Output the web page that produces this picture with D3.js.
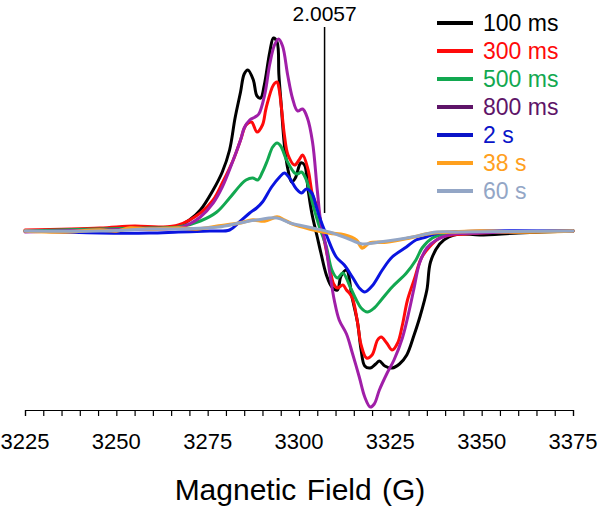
<!DOCTYPE html>
<html>
<head>
<meta charset="utf-8">
<script src="https://cdn.jsdelivr.net/npm/d3@7"></script>
<style>
  body { margin: 0; background: #fff; }
  svg { display: block; font-family: "Liberation Sans", Arial, Helvetica, sans-serif; }
</style>
</head>
<body>
<svg id="chart" width="601" height="513"></svg>
<script>
// ---- data (field in G, signal in arbitrary units) ----
const seriesNames = ["100 ms", "300 ms", "500 ms", "800 ms", "2 s", "38 s", "60 s"];
const lineColors = ["#000000", "#ff0a0a", "#12a850", "#a01fa8", "#0a14e0", "#ffa01e", "#93a6c6"];
const legendColors = ["#000000", "#ff0a0a", "#12a850", "#5e1468", "#0a14c8", "#ffa01e", "#93a6c6"];

const s100ms = [[3225,1],[3245.5,3],[3259,4],[3267,6],[3270,12],[3273,22],[3276.5,42],[3279,60],[3281,82],[3282.5,114],[3284,140],[3285,158],[3286,162],[3287.5,152],[3288.5,136],[3289.5,134],[3290.5,147],[3292,180],[3293,194],[3294,190],[3294.5,157],[3295.2,124],[3296,87],[3297,62],[3298,50],[3299,54],[3300.5,69],[3301.5,67],[3302.5,42],[3303.5,19],[3305,-5],[3306,-21],[3307.5,-43],[3309,-55],[3310.5,-58],[3311.5,-44],[3313,-38],[3314.5,-65],[3316,-90],[3317,-118],[3318,-134],[3319.5,-136],[3321,-132],[3322,-129],[3323.5,-134],[3325.5,-136],[3327.5,-132],[3329.5,-123],[3331.5,-103],[3333,-86],[3335,-58],[3336,-30],[3338.5,-12],[3341,-5],[3344,-2],[3349.5,-3],[3360,-1],[3375,1]];
const s300ms = [[3225,2],[3245.5,4],[3255,6],[3262,5],[3267,7],[3273,19],[3276.5,32],[3279,49],[3282,72],[3284,92],[3285.5,107],[3287,110],[3288.5,100],[3290,107],[3291,124],[3293,147],[3294,150],[3294.5,144],[3295.2,124],[3296,97],[3297,77],[3298.8,67],[3300,72],[3301,77],[3302.5,62],[3303.7,37],[3305,25],[3306.5,-1],[3308.3,-33],[3309.5,-52],[3310.5,-56],[3312,-53],[3313,-58],[3314.5,-65],[3316,-90],[3317,-113],[3318.5,-126],[3320,-123],[3321.5,-108],[3322.5,-105],[3324,-111],[3325.5,-118],[3327,-111],[3328.3,-93],[3329.7,-68],[3331.5,-48],[3333.5,-26],[3335.7,-15],[3338.5,-6],[3342,-3],[3349.5,-1],[3375,1]];
const s500ms = [[3225,1],[3245.5,3],[3259,4],[3267,5],[3273,11],[3277.5,20],[3281,34],[3284,47],[3285.5,52],[3287.3,54],[3288.7,52],[3290,60],[3291.4,72],[3292.8,85],[3294,89],[3295,86],[3296.6,72],[3298.8,59],[3299.6,58],[3300.7,60],[3302,52],[3303.7,29],[3305.6,5],[3307.5,-15],[3309,-38],[3310.5,-46],[3312,-41],[3314,-55],[3315.7,-68],[3317,-76],[3318.7,-80],[3320.6,-76],[3322.5,-68],[3325.5,-55],[3329.4,-41],[3332,-28],[3333.7,-16],[3336.5,-6],[3339.8,-2],[3344,-1],[3375,1]];
const s800ms = [[3225,0],[3245.5,2],[3259,3],[3267,4],[3270,8],[3273,15],[3276.5,29],[3279,45],[3282,72],[3284,92],[3285,104],[3286.5,112],[3288,115],[3289,118],[3290.6,137],[3292,168],[3293.3,187],[3294.4,193],[3295.5,186],[3296.9,157],[3298.2,134],[3299.6,121],[3301,123],[3302.3,114],[3303.7,90],[3305,42],[3306,9],[3307.3,-13],[3308.3,-38],[3309.7,-69],[3311,-88],[3313,-102],[3314.6,-121],[3316.5,-145],[3318,-165],[3319.5,-175],[3320.6,-172],[3322,-158],[3324,-142],[3326,-128],[3328.3,-106],[3330.2,-78],[3331.5,-56],[3333,-31],[3335,-16],[3337.6,-8],[3341,-3],[3349.5,-1],[3375,1]];
const s2s = [[3225,1],[3234.5,0],[3245.5,-1],[3259,-1],[3267,0],[3275.5,1],[3281,2],[3283.7,10],[3286.5,19],[3288.4,24],[3290,30],[3292.5,45],[3294.7,55],[3296,59],[3297.4,54],[3299.3,43],[3300.7,39],[3302,43],[3303.5,39],[3304.6,27],[3305.6,15],[3307.5,-3],[3310.2,-25],[3312.4,-33],[3314.6,-45],[3316.5,-56],[3318,-60],[3320,-54],[3322.8,-38],[3325.5,-25],[3329.4,-15],[3332,-8],[3334.8,-5],[3338.4,-1],[3375,1]];
const s38s = [[3225,1],[3235,0],[3245.5,2],[3250,1],[3253.7,4],[3259,3],[3267,4],[3272,3],[3278,6],[3283.7,9],[3287.3,12],[3290.6,11],[3294,15],[3296,12],[3298.2,8],[3303,3],[3308.3,-1],[3312.4,-3],[3315.7,-8],[3317.3,-16],[3319.3,-11],[3324,-10],[3330.2,-6],[3336.5,-1],[3342,0],[3349.5,1],[3360,0],[3375,1]];
const s60s = [[3225,1],[3245.5,1],[3259,3],[3267,3],[3278,5],[3283.7,9],[3288.4,12],[3294,14],[3297.6,9],[3303.7,4],[3308.3,0],[3313,-6],[3317.3,-12],[3322,-10],[3331,-5],[3337.6,0],[3343,0],[3375,1]];
const allSeries = [s100ms, s300ms, s500ms, s800ms, s2s, s38s, s60s];

const xTicksMajor = [3225, 3250, 3275, 3300, 3325, 3350, 3375];
const gFactorLabel = "2.0057";
const gFactorField = 3307;
const xTitle = "Magnetic Field (G)";

// ---- layout ----
const svg = d3.select("#chart");
const x = d3.scaleLinear().domain([3225, 3375]).range([25, 573]);
const y = d3.scaleLinear().domain([-180, 200]).range([412, 32]);

// axis
const axisY = 410;
const axis = d3.axisBottom(x)
  .tickValues(d3.range(3225, 3376, 5))
  .tickSize(6)
  .tickFormat("");
const gAxis = svg.append("g").attr("transform", `translate(0,${axisY})`).call(axis);
gAxis.select(".domain").attr("stroke", "#000").attr("stroke-width", 1.2);
gAxis.selectAll(".tick line").attr("stroke", "#000").attr("stroke-width", 1.2);

svg.append("g").selectAll("text").data(xTicksMajor).join("text")
  .attr("x", d => x(d)).attr("y", 449)
  .attr("text-anchor", "middle")
  .attr("font-size", 22)
  .text(d => d);

svg.append("text")
  .attr("x", 300).attr("y", 500)
  .attr("text-anchor", "middle")
  .attr("font-size", 30)
  .attr("word-spacing", 2)
  .text(xTitle);

// curves
const line = d3.line().x(d => x(d[0])).y(d => y(d[1])).curve(d3.curveCatmullRom.alpha(0.5));
svg.append("g").selectAll("path").data(allSeries).join("path")
  .attr("d", d => line(d))
  .attr("fill", "none")
  .attr("stroke", (d, i) => lineColors[i])
  .attr("stroke-width", (d, i) => i === 5 ? 3.4 : 3)
  .attr("stroke-linejoin", "round")
  .attr("stroke-linecap", "round");

// g-factor marker
svg.append("line")
  .attr("x1", x(gFactorField)).attr("x2", x(gFactorField))
  .attr("y1", 27).attr("y2", 213)
  .attr("stroke", "#000").attr("stroke-width", 1.5);
svg.append("text")
  .attr("x", x(gFactorField)).attr("y", 21)
  .attr("text-anchor", "middle")
  .attr("font-size", 21)
  .text(gFactorLabel);

// legend
const leg = svg.append("g");
const legY0 = 23, legStep = 28;
seriesNames.forEach((name, i) => {
  const yy = legY0 + i * legStep;
  leg.append("line").attr("x1", 437).attr("x2", 473).attr("y1", yy).attr("y2", yy)
    .attr("stroke", legendColors[i]).attr("stroke-width", 4);
  leg.append("text").attr("x", 483).attr("y", yy).attr("dy", "0.36em")
    .attr("font-size", 23).attr("fill", legendColors[i]).text(name);
});
</script>
</body>
</html>
